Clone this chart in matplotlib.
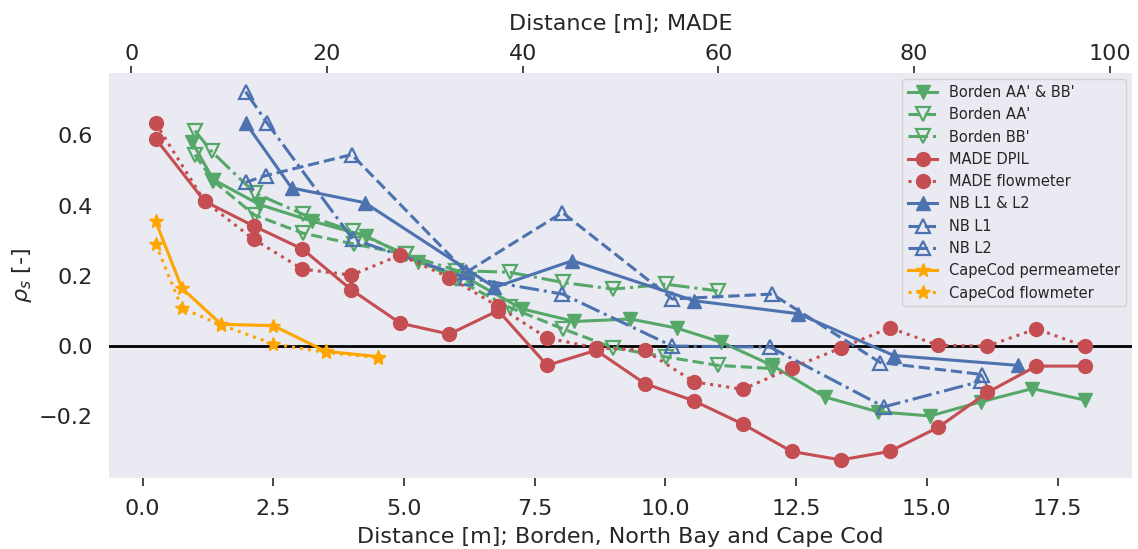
import matplotlib
matplotlib.use("Agg")
import matplotlib.pyplot as plt

# ---------------- data ----------------
borden_x = [0.94, 1.35, 2.23, 3.23, 4.28, 5.26, 6.25, 7.25, 8.26, 9.33, 10.22, 11.07,
            12.04, 13.05, 14.06, 15.06, 16.03, 17.02, 18.03]
borden_y = [0.582, 0.474, 0.403, 0.356, 0.313, 0.240, 0.190, 0.106, 0.070, 0.077, 0.051, 0.011,
            -0.055, -0.145, -0.187, -0.199, -0.159, -0.121, -0.154]

bordenAA_x = [1.0, 1.35, 2.14, 3.07, 4.05, 5.04, 6.0, 7.02, 8.04, 9.0, 10.01, 11.0, 12.04]
bordenAA_y = [0.545, 0.470, 0.373, 0.321, 0.290, 0.261, 0.190, 0.110, 0.049, -0.005, -0.031, -0.055, -0.064]

bordenBB_x = [1.0, 1.32, 2.14, 3.07, 4.02, 5.04, 6.0, 7.02, 8.04, 9.0, 10.01, 11.0]
bordenBB_y = [0.613, 0.554, 0.436, 0.375, 0.327, 0.261, 0.215, 0.210, 0.181, 0.162, 0.176, 0.157]

made_x = [2.5, 7.5, 12.5, 17.5, 22.5, 27.5, 32.5, 37.5, 42.5, 47.5,
          52.5, 57.5, 62.5, 67.5, 72.5, 77.5, 82.5, 87.5, 92.5, 97.5]
made_dpil = [0.590, 0.412, 0.342, 0.276, 0.160, 0.065, 0.034, 0.101, -0.055, -0.012,
             -0.107, -0.156, -0.222, -0.300, -0.324, -0.300, -0.231, -0.132, -0.057, -0.057]
made_flow = [0.634, 0.412, 0.304, 0.219, 0.202, 0.259, 0.195, 0.113, 0.023, -0.005,
             -0.012, -0.102, -0.123, -0.062, -0.006, 0.052, 0.002, 0.000, 0.049, -0.001]

nb_x = [1.97, 2.85, 4.25, 6.73, 8.22, 10.55, 12.54, 14.37, 16.75]
nb_y = [0.635, 0.450, 0.408, 0.167, 0.243, 0.129, 0.092, -0.027, -0.055]

nbL1_x = [1.97, 2.35, 4.0, 6.19, 8.03, 10.13, 12.04, 14.11, 16.06]
nbL1_y = [0.466, 0.485, 0.545, 0.210, 0.380, 0.134, 0.148, -0.047, -0.081]

nbL2_x = [1.97, 2.38, 4.02, 6.19, 8.03, 10.13, 12.0, 14.18, 16.04]
nbL2_y = [0.724, 0.635, 0.304, 0.195, 0.148, 0.000, -0.003, -0.173, -0.100]

cc_x = [0.25, 0.75, 1.5, 2.5, 3.5, 4.5]
cc_perm = [0.355, 0.165, 0.062, 0.058, -0.015, -0.030]
cc_flow = [0.290, 0.108, 0.060, 0.006, -0.018, -0.033]

# ---------------- style ----------------
green = "#55A868"
red = "#C44E52"
blue = "#4C72B0"
orange = "orange"
bg = "#EAEAF2"
tc = "#262626"

plt.rcParams.update({
    "font.family": ["DejaVu Sans"],
    "axes.facecolor": bg,
    "figure.facecolor": "white",
    "axes.edgecolor": "white",
    "text.color": tc,
    "axes.labelcolor": tc,
    "xtick.color": tc,
    "ytick.color": tc,
})

fig = plt.figure(figsize=(11.38, 5.49), dpi=100)
ax = fig.add_axes([0.096, 0.1288, 0.8985, 0.7377])
for s in ax.spines.values():
    s.set_visible(False)

lw = 2.2
ms = 10
mew = 1.6

h = []
h += ax.plot(borden_x, borden_y, '-', color=green, marker='v', ms=ms, lw=lw, label="Borden AA' & BB'")
h += ax.plot(bordenAA_x, bordenAA_y, '--', color=green, marker='v', ms=ms, lw=lw, mfc='none', mew=mew,
             label="Borden AA'")
h += ax.plot(bordenBB_x, bordenBB_y, '-.', color=green, marker='v', ms=ms, lw=lw, mfc='none', mew=mew,
             label="Borden BB'")

ax2 = ax.twiny()
for s in ax2.spines.values():
    s.set_visible(False)
h += ax2.plot(made_x, made_dpil, '-', color=red, marker='o', ms=ms, lw=lw, label="MADE DPIL")
h += ax2.plot(made_x, made_flow, ':', color=red, marker='o', ms=ms, lw=lw, label="MADE flowmeter")

h += ax.plot(nb_x, nb_y, '-', color=blue, marker='^', ms=ms, lw=lw, label="NB L1 & L2")
h += ax.plot(nbL1_x, nbL1_y, '--', color=blue, marker='^', ms=ms, lw=lw, mfc='none', mew=mew, label="NB L1")
h += ax.plot(nbL2_x, nbL2_y, '-.', color=blue, marker='^', ms=ms, lw=lw, mfc='none', mew=mew, label="NB L2")
h += ax.plot(cc_x, cc_perm, '-', color=orange, marker='*', ms=ms, lw=lw, label="CapeCod permeameter")
h += ax.plot(cc_x, cc_flow, ':', color=orange, marker='*', ms=ms, lw=lw, label="CapeCod flowmeter")

ax.axhline(0, color='black', lw=2, zorder=1)

fs = 16
ax.set_xticks([0, 2.5, 5.0, 7.5, 10.0, 12.5, 15.0, 17.5])
ax.set_yticks([-0.2, 0.0, 0.2, 0.4, 0.6])
ax.tick_params(axis='x', labelsize=fs, length=6, width=1.2, direction='out', pad=9)
ax.tick_params(axis='y', labelsize=fs, length=0, pad=12)
ax.set_xlabel("Distance [m]; Borden, North Bay and Cape Cod", fontsize=fs, labelpad=6)
ax.set_ylabel(r"$\rho_s$ [-]", fontsize=fs, labelpad=3)

ax2.set_xticks([0, 20, 40, 60, 80, 100])
ax2.tick_params(axis='x', labelsize=fs, length=5, width=1.2, direction='out', pad=2)
ax2.set_xlabel("Distance [m]; MADE", fontsize=fs, labelpad=10)

leg = ax2.legend(handles=h, loc='upper right', fontsize=10.5, frameon=True, facecolor=bg,
                 edgecolor='#cccccc', framealpha=0.8, borderaxespad=0.4)

fig.savefig("out.png", dpi=100)
